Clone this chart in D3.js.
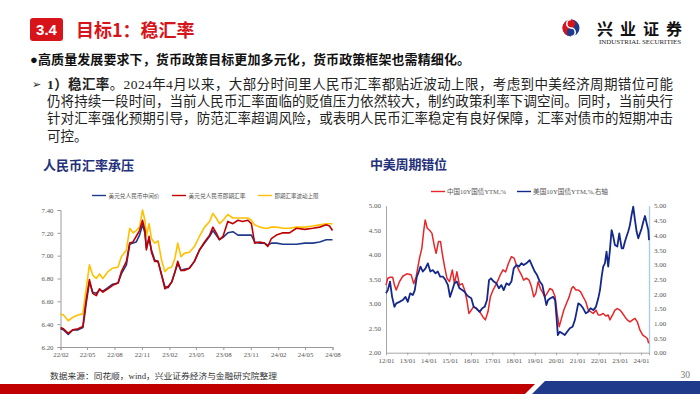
<!DOCTYPE html>
<html>
<head>
<meta charset="utf-8">
<script src="https://cdn.jsdelivr.net/npm/d3@7"></script>
<style>
  body { margin: 0; background: #fff; }
  svg { display: block; font-family: "Liberation Serif", "Noto Sans CJK SC", serif; }
</style>
</head>
<body>
<svg id="slide" width="700" height="394"></svg>
<script>
// ---- left chart: USD/CNY ----
const fxDates = ["2022-02-01","2022-02-11","2022-02-27","2022-03-14","2022-04-01","2022-04-17","2022-04-23","2022-04-28","2022-05-09","2022-05-20",
  "2022-06-01","2022-06-12","2022-06-23","2022-07-10","2022-07-26","2022-08-13","2022-08-24","2022-09-10","2022-09-21","2022-10-02",
  "2022-10-13","2022-10-24","2022-11-03","2022-11-11","2022-11-16","2022-11-25","2022-12-03","2022-12-14","2022-12-25","2023-01-06",
  "2023-01-17","2023-01-28","2023-02-09","2023-02-20","2023-03-01","2023-03-12","2023-03-23","2023-04-09","2023-04-26","2023-05-13",
  "2023-05-30","2023-06-16","2023-06-27","2023-07-08","2023-07-19","2023-07-31","2023-08-16","2023-09-02","2023-09-19","2023-10-05",
  "2023-10-22","2023-11-03","2023-11-14","2023-12-01","2023-12-17","2023-12-28","2024-01-09","2024-01-26","2024-02-17","2024-03-10",
  "2024-04-02","2024-04-30","2024-05-27","2024-06-19","2024-07-11","2024-07-22","2024-08-01"];
const fxMid = [6.36,6.35,6.31,6.35,6.35,6.37,6.48,6.58,6.77,6.68,
  6.67,6.70,6.69,6.72,6.75,6.76,6.84,6.92,7.10,7.11,
  7.12,7.18,7.27,7.20,7.07,7.15,7.05,6.96,6.95,6.83,
  6.73,6.72,6.77,6.86,6.93,6.87,6.88,6.89,6.95,7.05,
  7.11,7.17,7.22,7.18,7.14,7.16,7.20,7.21,7.18,7.18,
  7.18,7.18,7.12,7.11,7.11,7.09,7.11,7.11,7.10,7.10,
  7.10,7.11,7.11,7.12,7.14,7.14,7.14];
const fxSpot = [6.37,6.36,6.32,6.35,6.36,6.38,6.51,6.61,6.79,6.67,
  6.65,6.71,6.68,6.71,6.74,6.76,6.86,6.95,7.11,7.12,
  7.17,7.22,7.31,7.22,7.05,7.17,7.03,6.95,6.95,6.83,
  6.71,6.73,6.77,6.86,6.95,6.87,6.87,6.89,6.95,7.05,
  7.12,7.18,7.25,7.20,7.14,7.17,7.30,7.28,7.31,7.30,
  7.31,7.28,7.11,7.12,7.11,7.08,7.15,7.18,7.20,7.20,
  7.24,7.23,7.24,7.25,7.27,7.26,7.22];
const fxUpper = [6.49,6.48,6.43,6.46,6.48,6.49,6.61,6.71,6.92,6.83,
  6.80,6.84,6.80,6.86,6.89,6.90,6.99,7.05,7.24,7.20,
  7.22,7.25,7.40,7.31,7.17,7.28,7.15,7.11,7.13,6.96,
  6.86,6.89,6.90,6.98,7.11,6.99,7.02,7.03,7.08,7.17,
  7.25,7.30,7.37,7.33,7.28,7.31,7.36,7.33,7.33,7.33,
  7.33,7.31,7.27,7.25,7.24,7.24,7.25,7.25,7.24,7.24,
  7.25,7.25,7.26,7.27,7.28,7.28,7.28];
const fxTickDates = ["2022-02-01","2022-05-01","2022-08-01","2022-11-01","2023-02-01","2023-05-01","2023-08-01","2023-11-01","2024-02-01","2024-05-01","2024-08-01"];
const fxYTicks = [6.2, 6.4, 6.6, 6.8, 7.0, 7.2, 7.4];
const fxNames = ["美元兑人民币中间价", "美元兑人民币即期汇率", "即期汇率波动上限"];

// ---- right chart: CN / US 10Y ----
const cnDates = ["2012-01-01","2012-02-01","2012-03-10","2012-04-25","2012-05-25","2012-06-25","2012-08-20","2012-10-15","2012-12-25","2013-03-08",
  "2013-04-22","2013-06-02","2013-07-30","2013-09-08","2013-10-12","2013-11-05","2013-12-10","2014-01-19","2014-02-28","2014-04-14",
  "2014-05-12","2014-06-22","2014-07-26","2014-08-24","2014-10-03","2014-11-13","2014-12-28","2015-02-14","2015-03-23","2015-05-03",
  "2015-06-18","2015-08-03","2015-09-13","2015-10-23","2015-11-26","2016-01-06","2016-02-16","2016-04-01","2016-05-28","2016-07-25",
  "2016-09-04","2016-10-20","2016-11-29","2017-01-15","2017-03-01","2017-04-10","2017-05-19","2017-07-04","2017-08-19","2017-10-05",
  "2017-11-26","2018-01-11","2018-02-20","2018-04-01","2018-05-16","2018-06-25","2018-08-10","2018-09-26","2018-11-05","2018-12-15",
  "2019-01-19","2019-02-28","2019-04-08","2019-05-12","2019-06-22","2019-08-01","2019-09-17","2019-11-02","2019-12-17","2020-01-21",
  "2020-02-25","2020-04-05","2020-05-15","2020-06-30","2020-08-15","2020-09-25","2020-10-23","2020-12-08","2021-01-18","2021-02-28",
  "2021-04-12","2021-05-28","2021-07-08","2021-08-17","2021-10-03","2021-11-18","2021-12-28","2022-02-07","2022-03-23","2022-05-08",
  "2022-06-17","2022-07-16","2022-08-31","2022-10-10","2022-11-20","2023-01-05","2023-02-20","2023-04-01","2023-05-10","2023-06-25",
  "2023-08-10","2023-09-20","2023-10-30","2023-12-15","2024-02-01","2024-03-10","2024-04-20","2024-05-12"];
const cnYield = [3.38,3.52,3.54,3.54,3.38,3.28,3.45,3.56,3.61,3.59,
  3.41,3.55,3.93,4.13,4.50,4.71,4.54,4.50,4.44,4.16,
  4.03,4.27,4.27,4.03,3.76,3.52,3.45,3.69,3.41,3.65,
  3.38,3.41,3.28,3.07,2.80,2.87,2.94,2.90,2.84,2.73,
  2.67,2.84,3.14,3.28,3.38,3.48,3.59,3.69,3.65,3.82,
  3.96,3.93,3.79,3.69,3.59,3.48,3.52,3.48,3.35,3.14,
  3.21,3.45,3.31,3.24,3.14,3.21,3.31,3.28,3.14,2.80,
  2.53,2.70,2.87,3.01,3.14,3.31,3.35,3.28,3.28,3.24,
  3.14,3.04,2.87,2.84,2.80,2.87,2.77,2.77,2.80,2.75,
  2.77,2.67,2.77,2.87,2.90,2.87,2.80,2.73,2.67,2.63,
  2.67,2.70,2.63,2.46,2.36,2.33,2.29,2.19];
const usDates = ["2012-01-01","2012-02-01","2012-03-10","2012-04-15","2012-05-25","2012-06-25","2012-08-20","2012-10-15","2012-12-01","2013-01-10",
  "2013-02-20","2013-04-06","2013-05-10","2013-06-14","2013-07-18","2013-08-16","2013-09-26","2013-11-10","2013-12-20","2014-02-01",
  "2014-03-16","2014-05-01","2014-06-10","2014-07-20","2014-09-05","2014-10-20","2014-12-01","2015-01-05","2015-02-14","2015-03-23",
  "2015-05-03","2015-06-18","2015-08-03","2015-09-13","2015-10-23","2015-11-26","2016-01-06","2016-02-16","2016-04-01","2016-05-28",
  "2016-07-13","2016-08-23","2016-10-02","2016-11-06","2016-12-10","2017-01-26","2017-03-12","2017-04-26","2017-06-06","2017-07-16",
  "2017-09-01","2017-10-16","2017-11-26","2018-01-05","2018-02-20","2018-04-06","2018-05-16","2018-06-25","2018-08-10","2018-10-05",
  "2019-01-01","2019-02-10","2019-03-28","2019-05-12","2019-06-22","2019-07-20","2019-08-18","2019-09-28","2019-11-13","2019-12-17",
  "2020-01-10","2020-02-02","2020-03-06","2020-04-16","2020-06-01","2020-07-11","2020-08-26","2020-10-12","2020-11-21","2020-12-20",
  "2021-01-18","2021-02-28","2021-04-12","2021-05-28","2021-07-08","2021-08-17","2021-10-03","2021-11-18","2021-12-28","2022-01-26",
  "2022-02-24","2022-03-23","2022-04-21","2022-05-19","2022-06-17","2022-07-16","2022-08-14","2022-09-12","2022-10-10","2022-11-20",
  "2022-12-24","2023-02-03","2023-03-02","2023-04-01","2023-04-28","2023-05-27","2023-06-25","2023-07-23","2023-08-21","2023-09-20",
  "2023-10-18","2023-11-16","2023-12-15","2024-01-13","2024-02-11","2024-03-10","2024-04-08","2024-05-06","2024-05-18"];
const usYield = [2.02,2.13,2.42,1.90,1.56,1.68,1.73,1.79,1.90,1.73,
  2.02,1.96,2.13,2.59,2.76,2.93,2.76,2.87,3.04,2.76,
  2.81,2.70,2.76,2.59,2.59,2.47,2.30,1.90,2.13,2.36,
  2.42,2.19,2.13,2.07,1.96,1.90,1.85,1.56,1.51,1.39,
  1.51,1.56,1.79,2.47,2.53,2.42,2.36,2.19,2.30,2.13,
  2.36,2.30,2.42,2.87,2.98,2.93,3.04,2.98,3.04,3.15,
  2.76,2.64,2.42,2.30,1.90,1.62,1.79,1.85,1.90,1.79,
  1.22,0.60,0.71,0.66,0.60,0.71,0.83,0.88,1.11,1.39,
  1.68,1.62,1.51,1.34,1.39,1.51,1.45,1.56,1.85,2.13,
  2.59,2.93,3.04,3.44,2.93,3.49,4.17,3.95,3.66,3.61,
  4.06,3.55,3.55,3.78,3.95,4.12,4.34,4.68,4.97,4.51,
  4.12,3.89,4.06,4.23,4.46,4.65,4.40,4.17,3.83];
const bondTickDates = ["2012-01-01","2013-01-01","2014-01-01","2015-01-01","2016-01-01","2017-01-01","2018-01-01",
  "2019-01-01","2020-01-01","2021-01-01","2022-01-01","2023-01-01","2024-01-01"];
const cnTicks = [2.0, 2.5, 3.0, 3.5, 4.0, 4.5, 5.0];
const usTicks = [0, 0.5, 1.0, 1.5, 2.0, 2.5, 3.0, 3.5, 4.0, 4.5, 5.0];
const bondNames = ["中国10Y国债YTM,%", "美国10Y国债YTM,%,右轴"];

const parse = d3.timeParse("%Y-%m-%d");
const svg = d3.select("#slide");
const cjk = '"Noto Sans CJK SC", sans-serif';
const red = "#D7141A";

/*----- header -----*/
svg.append("rect").attr("x", 30).attr("y", 18).attr("width", 33).attr("height", 23).attr("rx", 3).attr("fill", red);
svg.append("text").attr("x", 46.5).attr("y", 35).attr("text-anchor", "middle")
  .style("font-family", '"Liberation Sans", Arial').style("font-weight", "bold").style("font-size", "15px")
  .attr("fill", "#fff").text("3.4");
svg.append("text").attr("x", 76).attr("y", 36.5)
  .style("font-family", cjk).style("font-weight", "bold").style("font-size", "18px")
  .attr("fill", red).text("目标1：稳汇率");

// logo
const logo = svg.append("g").attr("transform", "translate(571,28)");
logo.append("circle").attr("r", 8.5).attr("fill", "#1E3A8F");
logo.append("path").attr("d", "M0,-8.5 A8.5,8.5 0 0,0 0,8.5 A4.25,4.25 0 0,1 0,0 A4.25,4.25 0 0,0 0,-8.5 Z").attr("fill", "#D7141A");
logo.append("path").attr("d", "M0,-8.5 A4.25,4.25 0 0,0 0,0 A4.25,4.25 0 0,1 0,8.5")
  .attr("fill", "none").attr("stroke", "#fff").attr("stroke-width", 1.6);
svg.append("text").attr("x", 597).attr("y", 35).attr("textLength", 85).attr("lengthAdjust", "spacing")
  .style("font-family", cjk).style("font-weight", "bold").style("font-size", "16px")
  .attr("fill", "#111").text("兴业证券");
svg.append("text").attr("x", 599).attr("y", 44).attr("textLength", 82).attr("lengthAdjust", "spacingAndGlyphs")
  .style("font-size", "5.5px").attr("fill", "#222").text("INDUSTRIAL SECURITIES");

/*----- body text -----*/
svg.append("text").attr("x", 30).attr("y", 63.5).attr("textLength", 440).attr("lengthAdjust", "spacing")
  .style("font-weight", "bold").style("font-size", "13px").attr("fill", "#111")
  .text("●高质量发展要求下，货币政策目标更加多元化，货币政策框架也需精细化。");

svg.append("text").attr("x", 32).attr("y", 88).style("font-family", '"DejaVu Sans"')
  .style("font-size", "11px").attr("fill", "#222").text("➢");
const l2 = svg.append("text").attr("x", 47).attr("y", 88.5).attr("textLength", 626).attr("lengthAdjust", "spacing")
  .style("font-size", "13.5px").attr("fill", "#222");
l2.append("tspan").style("font-weight", "bold").text("1）稳汇率");
l2.append("tspan").text("。2024年4月以来，大部分时间里人民币汇率都贴近波动上限，考虑到中美经济周期错位可能");

const bodyLines = [
  "仍将持续一段时间，当前人民币汇率面临的贬值压力依然较大，制约政策利率下调空间。同时，当前央行",
  "针对汇率强化预期引导，防范汇率超调风险，或表明人民币汇率稳定有良好保障，汇率对债市的短期冲击",
  "可控。"
];
bodyLines.forEach((t, i) => {
  const el = svg.append("text").attr("x", 47).attr("y", 106 + i * 17.3)
    .style("font-size", "13.5px").attr("fill", "#222").text(t);
  if (i < 2) el.attr("textLength", 626).attr("lengthAdjust", "spacing");
});

/*----- chart titles -----*/
const navy = "#24307A";
svg.append("text").attr("x", 43).attr("y", 169.5).attr("textLength", 91)
  .style("font-family", cjk).style("font-weight", "bold").style("font-size", "13px")
  .attr("fill", navy).text("人民币汇率承压");
svg.append("text").attr("x", 370).attr("y", 168.5).attr("textLength", 77)
  .style("font-family", cjk).style("font-weight", "bold").style("font-size", "13px")
  .attr("fill", navy).text("中美周期错位");

/*----- left chart -----*/
const fxX = d3.scaleTime().domain([parse(fxDates[0]), parse(fxDates[fxDates.length - 1])]).range([60.5, 332.5]);
const fxY = d3.scaleLinear().domain([6.2, 7.4]).range([347, 210]);

const fxAxisY = svg.append("g").attr("transform", "translate(60.5,0)")
  .call(d3.axisLeft(fxY).tickValues(fxYTicks).tickFormat(d3.format(".2f")).tickSize(3).tickPadding(4));
const fxAxisX = svg.append("g").attr("transform", "translate(0,347)")
  .call(d3.axisBottom(fxX).tickValues(fxTickDates.map(parse)).tickFormat(d3.timeFormat("%y/%m")).tickSize(3).tickPadding(2));
[fxAxisY, fxAxisX].forEach(a => {
  a.selectAll("path, line").attr("stroke", "#9A9A9A");
  a.selectAll("text").attr("fill", "#555").style("font-size", "6.8px").style("font-family", '"Liberation Serif"');
});

const fxColors = ["#1F3A8A", "#C00000", "#FFC000"];
const fxSeries = [fxMid, fxSpot, fxUpper];
const fxLine = vals => d3.line().x((d, i) => fxX(parse(fxDates[i]))).y(d => fxY(d))(vals);
[2, 0, 1].forEach(k => {
  svg.append("path").attr("d", fxLine(fxSeries[k])).attr("fill", "none")
    .attr("stroke", fxColors[k]).attr("stroke-width", 1.6).attr("stroke-linejoin", "round");
});

// legend
const fxLegX = [92, 172, 258];
const fxLegW = [51, 57, 44];
fxNames.forEach((n, i) => {
  svg.append("line").attr("x1", fxLegX[i]).attr("x2", fxLegX[i] + 14).attr("y1", 195.5).attr("y2", 195.5)
    .attr("stroke", fxColors[i]).attr("stroke-width", 1.4);
  svg.append("text").attr("x", fxLegX[i] + 16.5).attr("y", 197.7).attr("textLength", fxLegW[i])
    .attr("lengthAdjust", "spacingAndGlyphs")
    .style("font-family", cjk).style("font-size", "5.8px").attr("fill", "#555").text(n);
});

/*----- right chart -----*/
const bX = d3.scaleTime().domain([parse("2012-01-01"), parse(usDates[usDates.length - 1])]).range([386, 649]);
const cnY = d3.scaleLinear().domain([2, 5]).range([352.7, 205.7]);
const usY = d3.scaleLinear().domain([0, 5]).range([352.7, 205.7]);

const bAxisL = svg.append("g").attr("transform", "translate(386,0)")
  .call(d3.axisLeft(cnY).tickValues(cnTicks).tickFormat(d3.format(".2f")).tickSize(0).tickPadding(5));
const bAxisR = svg.append("g").attr("transform", "translate(649,0)")
  .call(d3.axisRight(usY).tickValues(usTicks).tickFormat(d3.format(".2f")).tickSize(0).tickPadding(5));
const bAxisX = svg.append("g").attr("transform", "translate(0,352.7)")
  .call(d3.axisBottom(bX).tickValues(bondTickDates.map(parse)).tickFormat(d3.timeFormat("%y/%m")).tickSize(2.5).tickPadding(3));
[bAxisL, bAxisR, bAxisX].forEach(a => {
  a.selectAll("path, line").attr("stroke", "#A6A6A6");
  a.selectAll("text").attr("fill", "#555").style("font-size", "7px").style("font-family", '"Liberation Serif"');
});
bAxisR.select("path").attr("stroke", "#A9CBEA").attr("stroke-width", 1.3);

const cnLine = d3.line().x((d, i) => bX(parse(cnDates[i]))).y(d => cnY(d));
const usLine = d3.line().x((d, i) => bX(parse(usDates[i]))).y(d => usY(d));
svg.append("path").attr("d", cnLine(cnYield)).attr("fill", "none")
  .attr("stroke", "#E8262A").attr("stroke-width", 1.5).attr("stroke-linejoin", "round");
svg.append("path").attr("d", usLine(usYield)).attr("fill", "none")
  .attr("stroke", "#13288A").attr("stroke-width", 1.8).attr("stroke-linejoin", "round");

const bColors = ["#E8262A", "#13288A"];
const bLegX = [431, 517];
const bLegW = [59, 75];
bondNames.forEach((n, i) => {
  svg.append("line").attr("x1", bLegX[i]).attr("x2", bLegX[i] + 14).attr("y1", 191.5).attr("y2", 191.5)
    .attr("stroke", bColors[i]).attr("stroke-width", 1.4);
  svg.append("text").attr("x", bLegX[i] + 16).attr("y", 193.8).attr("textLength", bLegW[i])
    .attr("lengthAdjust", "spacingAndGlyphs")
    .style("font-size", "6.5px").attr("fill", "#555").text(n);
});

/*----- footer -----*/
svg.append("text").attr("x", 50).attr("y", 379).attr("textLength", 227).attr("lengthAdjust", "spacingAndGlyphs")
  .style("font-size", "8.5px").attr("fill", "#333").text("数据来源：同花顺，wind，兴业证券经济与金融研究院整理");
svg.append("text").attr("x", 690).attr("y", 377.5).attr("text-anchor", "end")
  .style("font-size", "9.5px").attr("fill", "#777").text("30");
svg.append("path").attr("d", "M0,384 L535,384 L525,394 L0,394 Z").attr("fill", "#C00000");
svg.append("path").attr("d", "M545,381 L700,381 L700,394 L532,394 Z").attr("fill", "#1F3A8A");
</script>
</body>
</html>
